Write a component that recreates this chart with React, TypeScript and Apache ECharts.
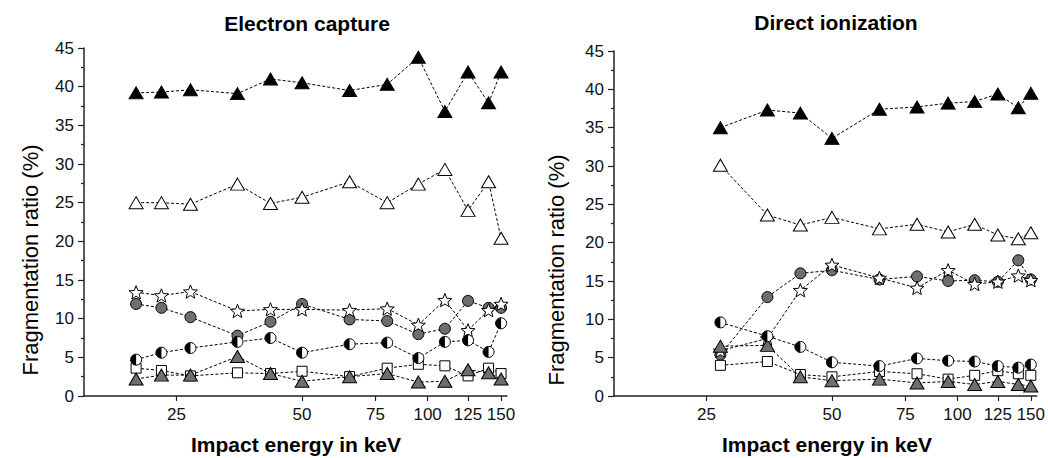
import React, { useEffect, useRef } from "react";
import * as echarts from "echarts";

// ---------- data ----------
const xTickLabels = [25, 50, 75, 100, 125, 150];
const yTicks = { min: 0, max: 45, step: 5 };

const ecEnergy = [20, 23, 27, 35, 42, 50, 65, 80, 95, 110, 125, 140, 150];
const ecBlackTri = [39.2, 39.3, 39.6, 39.1, 41.0, 40.5, 39.5, 40.3, 43.8, 36.8, 41.9, 37.9, 41.9];
const ecOpenTri = [25.0, 25.0, 24.8, 27.4, 24.9, 25.7, 27.7, 25.0, 27.4, 29.3, 24.0, 27.7, 20.4];
const ecStar = [13.4, 13.0, 13.5, 11.0, 11.2, 11.2, 11.1, 11.3, 9.2, 12.4, 8.5, 11.1, 11.9];
const ecGrayCircle = [11.9, 11.4, 10.2, 7.8, 9.6, 11.9, 9.9, 9.7, 8.0, 8.7, 12.3, 11.4, 11.4];
const ecHalfCircle = [4.7, 5.6, 6.2, 7.0, 7.5, 5.6, 6.7, 6.9, 4.9, 7.0, 7.2, 5.7, 9.4];
const ecSquare = [3.6, 3.3, 2.6, 3.0, 2.9, 3.2, 2.5, 3.6, 4.1, 3.9, 2.6, 3.6, 2.9];
const ecGrayTri = [2.2, 2.7, 2.7, 5.1, 2.9, 1.9, 2.5, 2.9, 1.8, 1.9, 3.4, 3.0, 2.2];

const diEnergy = [27, 35, 42, 50, 65, 80, 95, 110, 125, 140, 150];
const diBlackTri = [35.0, 37.3, 36.9, 33.6, 37.4, 37.7, 38.2, 38.4, 39.4, 37.6, 39.5];
const diOpenTri = [30.1, 23.6, 22.3, 23.3, 21.8, 22.4, 21.4, 22.4, 21.0, 20.5, 21.3];
const diStar = [5.9, 7.5, 13.8, 17.1, 15.4, 14.1, 16.4, 14.6, 14.9, 15.7, 15.1];
const diGrayCircle = [5.4, 12.9, 16.0, 16.4, 15.2, 15.6, 15.0, 15.1, 14.9, 17.7, 15.2];
const diHalfCircle = [9.6, 7.8, 6.4, 4.4, 3.9, 4.9, 4.6, 4.5, 3.9, 3.7, 4.1];
const diSquare = [4.0, 4.5, 2.8, 2.5, 3.2, 2.9, 2.2, 2.7, 3.3, 2.9, 2.7];
const diGrayTri = [6.5, 6.6, 2.5, 2.0, 2.2, 1.7, 1.9, 1.5, 1.9, 1.5, 1.3];

const titles = ["Electron capture", "Direct ionization"];
const xName = "Impact energy in keV";
const yName = "Fragmentation ratio (%)";

// ---------- styling ----------
const FONT = '"Liberation Sans", Arial, Helvetica, sans-serif';
const GRAY = "#6e6e6e";
const AXIS = "#222";

function starPath(): string {
  const pts: string[] = [];
  const R = 10;
  const r = 4.3;
  for (let k = 0; k < 10; k++) {
    const rad = k % 2 === 0 ? R : r;
    const a = (-90 + k * 36) * (Math.PI / 180);
    const x = 10 + rad * Math.cos(a);
    const y = 10 + rad * Math.sin(a);
    pts.push((k === 0 ? "M" : "L") + x.toFixed(2) + "," + y.toFixed(2));
  }
  return "path://" + pts.join(" ") + " Z";
}
const STAR = starPath();
const HALF_LEFT = "path://M10,0 A10,10 0 0 0 10,20 Z";

const grids = [
  { left: 84, top: 48, width: 423, height: 348 },
  { left: 614, top: 51, width: 423, height: 345 },
];

const lineStyle = { color: "#000", width: 1, type: [3, 2] as number[] };

function pairs(en: number[], vals: number[]) {
  return en.map((e, i) => [Math.log10(e), vals[i]]);
}

function panelSeries(gi: number, en: number[], d: {
  blackTri: number[]; openTri: number[]; star: number[]; grayCircle: number[];
  half: number[]; square: number[]; grayTri: number[];
}) {
  const base = {
    type: "line",
    xAxisIndex: gi,
    yAxisIndex: gi,
    showSymbol: true,
    lineStyle,
    clip: false,
    silent: true,
  };
  const border = { borderColor: "#000", borderWidth: 1 };
  const tri = [14, 12];
  return [
    { ...base, name: "blackTri" + gi, data: pairs(en, d.blackTri), symbol: "triangle", symbolSize: tri, itemStyle: { color: "#000", ...border }, z: 2 },
    { ...base, name: "openTri" + gi, data: pairs(en, d.openTri), symbol: "triangle", symbolSize: tri, itemStyle: { color: "#fff", ...border }, z: 2 },
    { ...base, name: "grayCircle" + gi, data: pairs(en, d.grayCircle), symbol: "circle", symbolSize: 11, itemStyle: { color: GRAY, ...border }, z: 3 },
    { ...base, name: "star" + gi, data: pairs(en, d.star), symbol: STAR, symbolKeepAspect: true, symbolSize: 14, itemStyle: { color: "#fff", ...border }, z: 4 },
    { ...base, name: "square" + gi, data: pairs(en, d.square), symbol: "rect", symbolSize: 10, itemStyle: { color: "#fff", ...border }, z: 3 },
    { ...base, name: "grayTri" + gi, data: pairs(en, d.grayTri), symbol: "triangle", symbolSize: tri, itemStyle: { color: GRAY, ...border }, z: 4 },
    { ...base, name: "half" + gi, data: pairs(en, d.half), symbol: "circle", symbolSize: 11, itemStyle: { color: "#fff", ...border }, z: 5 },
    {
      ...base, name: "halfFill" + gi, data: pairs(en, d.half), symbol: HALF_LEFT,
      symbolSize: [5.5, 11], symbolOffset: [-2.75, 0], itemStyle: { color: "#000", borderWidth: 0 },
      lineStyle: { opacity: 0, width: 0 }, z: 6,
    },
  ];
}

function xAxis(gi: number) {
  const ticks = xTickLabels.map((v) => Math.log10(v));
  return {
    type: "value",
    gridIndex: gi,
    min: Math.log10(15),
    max: Math.log10(155),
    axisLine: { show: true, onZero: false, lineStyle: { color: AXIS, width: 1.5 } },
    axisTick: { show: true, length: 5, customValues: ticks, lineStyle: { color: AXIS, width: 1.2 } },
    axisLabel: {
      customValues: ticks,
      formatter: (v: number) => String(Math.round(Math.pow(10, v))),
      fontSize: 17, color: "#111", fontFamily: FONT, margin: 10,
    },
    splitLine: { show: false },
  };
}

function yAxis(gi: number) {
  return {
    type: "value",
    gridIndex: gi,
    min: yTicks.min,
    max: yTicks.max,
    interval: yTicks.step,
    axisLine: { show: true, onZero: false, lineStyle: { color: AXIS, width: 1.5 } },
    axisTick: { show: true, length: 6, lineStyle: { color: AXIS, width: 1.2 } },
    minorTick: { show: true, splitNumber: 2, length: 3, lineStyle: { color: AXIS, width: 1.2 } },
    axisLabel: { fontSize: 17, color: "#111", fontFamily: FONT, margin: 10 },
    splitLine: { show: false },
  };
}

export default function App() {
  const ref = useRef<HTMLDivElement>(null);
  useEffect(() => {
    if (!ref.current) return;
    const chart = echarts.init(ref.current, undefined, { renderer: "svg" });
    const textStyle = (text: string, size: number, bold: boolean) => ({
      text,
      fill: "#000",
      font: `${bold ? "bold " : ""}${size}px ${FONT}`,
      align: "center",
      verticalAlign: "middle",
    });
    chart.setOption({
      animation: false,
      backgroundColor: "#fff",
      grid: grids,
      xAxis: [xAxis(0), xAxis(1)],
      yAxis: [yAxis(0), yAxis(1)],
      series: [
        ...panelSeries(0, ecEnergy, {
          blackTri: ecBlackTri, openTri: ecOpenTri, star: ecStar, grayCircle: ecGrayCircle,
          half: ecHalfCircle, square: ecSquare, grayTri: ecGrayTri,
        }),
        ...panelSeries(1, diEnergy, {
          blackTri: diBlackTri, openTri: diOpenTri, star: diStar, grayCircle: diGrayCircle,
          half: diHalfCircle, square: diSquare, grayTri: diGrayTri,
        }),
      ],
      graphic: [
        { type: "text", x: 307, y: 23, style: textStyle(titles[0], 21, true) },
        { type: "text", x: 836, y: 22, style: textStyle(titles[1], 21, true) },
        { type: "text", x: 296, y: 444, style: textStyle(xName, 21, true) },
        { type: "text", x: 827, y: 444, style: textStyle(xName, 21, true) },
        { type: "text", x: 30, y: 260, rotation: Math.PI / 2, style: textStyle(yName, 22, false) },
        { type: "text", x: 556, y: 270, rotation: Math.PI / 2, style: textStyle(yName, 22, false) },
      ],
    });
    return () => chart.dispose();
  }, []);
  return (
    <div
      ref={ref}
      style={{ position: "fixed", left: 0, top: 0, width: 1048, height: 458, background: "#fff" }}
    />
  );
}
